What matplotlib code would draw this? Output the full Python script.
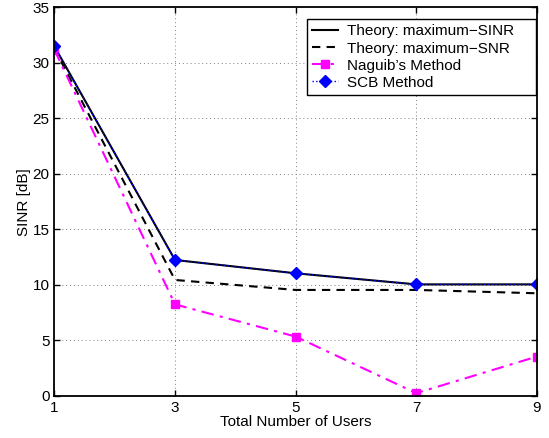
import matplotlib
matplotlib.use('Agg')
import matplotlib.pyplot as plt

plt.rcParams['font.family'] = ['Liberation Sans', 'DejaVu Sans']

# data
users = [1, 3, 5, 7, 9]
theory_sinr = [31.5, 12.25, 11.05, 10.05, 10.05]
theory_snr = [31.3, 10.45, 9.55, 9.55, 9.25]
naguib = [31.2, 8.25, 5.35, 0.25, 3.55]
scb = [31.5, 12.25, 11.05, 10.05, 10.05]

fig = plt.figure(figsize=(5.49, 4.38), dpi=100)
ax = fig.add_axes([0.099, 0.096, 0.879, 0.887])

ax.plot(users, theory_sinr, color='black', linestyle='-', linewidth=1.5,
        label='Theory: maximum\u2212SINR')
ax.plot(users, theory_snr, color='black', linestyle=(0, (4, 3)), linewidth=1.5,
        label='Theory: maximum\u2212SNR')
ax.plot(users, naguib, color='magenta', linestyle=(0, (6, 3, 1.5, 3)), linewidth=1.5,
        marker='s', markersize=6, label="Naguib\u2019s Method")
ax.plot(users, scb, color='blue', linestyle=':', linewidth=1.0,
        marker='D', markersize=6, label='SCB Method')

ax.set_xlim(1, 9)
ax.set_ylim(0, 35)
ax.set_xticks([1, 3, 5, 7, 9])
ax.set_yticks(range(0, 36, 5))
ax.tick_params(direction='in', top=True, right=True, labelsize=11, length=4, width=1)
ax.grid(True, color='gray', linestyle=(0, (1, 3)), linewidth=0.7)
for sp in ax.spines.values():
    sp.set_linewidth(1.3)

ax.set_xlabel('Total Number of Users', fontsize=11, labelpad=0)
ax.set_ylabel('SINR [dB]', fontsize=11, labelpad=1)

leg = ax.legend(loc='upper left', bbox_to_anchor=(0.5235, 0.782, 0.4745, 0.188),
                mode='expand', borderaxespad=0,
                fontsize=11, fancybox=False, framealpha=1,
                edgecolor='black', borderpad=0.35, labelspacing=0.2,
                handlelength=1.7, handletextpad=0.6)
leg.get_frame().set_linewidth(1.0)

fig.savefig('out.png', dpi=100)
